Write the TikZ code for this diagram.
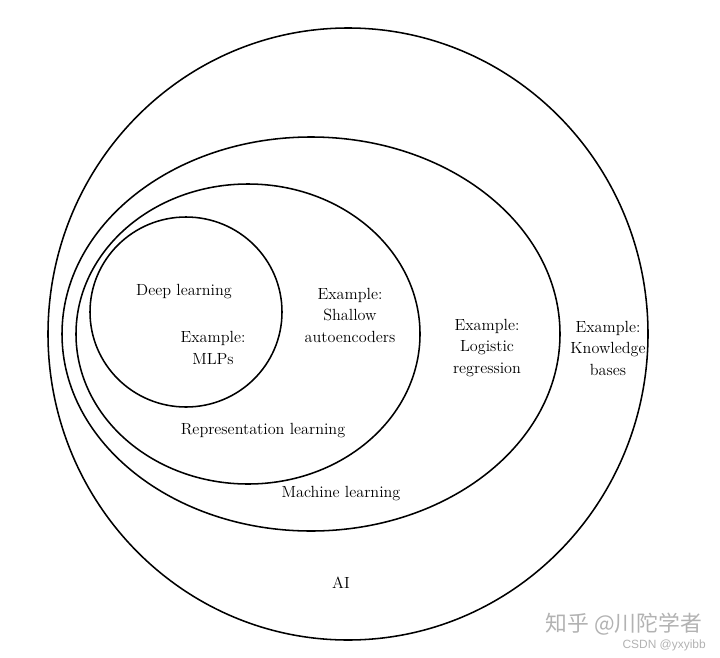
\documentclass[tikz,border=0pt]{standalone}
\usepackage{fontspec}
\newfontfamily\cjk{Noto Sans CJK SC}
\newfontfamily\wmsans{Liberation Sans}

\begin{document}
\begin{tikzpicture}[
  x=0.025cm, y=-0.025cm,
  set/.style={draw, line width=1.1pt},
  lbl/.style={align=center, inner sep=0pt, font=\fontsize{11.5}{15.3}\selectfont},
  wm/.style={text=black!30, inner sep=0pt}
]
\useasboundingbox (0,0) rectangle (720,657);
% nested sets
\draw[set] (348,334) ellipse [x radius=300, y radius=306];
\draw[set] (311,334) ellipse [x radius=249, y radius=197];
\draw[set] (248,334) ellipse [x radius=172, y radius=150];
\draw[set] (186,312) ellipse [x radius=96, y radius=95];

\node[lbl] (deep) at (184,292) {Deep learning};
\node[lbl] (mlp) at (213,348) {Example:\\MLPs};
\node[lbl] (shallow) at (350,315) {Example:\\Shallow\\autoencoders};
\node[lbl] (logreg) at (487,348) {Example:\\Logistic\\regression};
\node[lbl] (kb) at (608,348) {Example:\\Knowledge\\bases};
\node[lbl] (rep) at (263,431) {Representation learning};
\node[lbl] (ml) at (341,494) {Machine learning};
\node[lbl] (ai) at (341,583) {AI};

% watermark
\node[wm, font=\cjk\fontsize{15.5}{15.5}\selectfont] (wmzh) at (624,624) {知乎 @川陀学者};
\node[wm, anchor=east, font=\wmsans\fontsize{8.5}{8.5}\selectfont] (wmcsdn) at (706,645) {CSDN @yxyibb};
\end{tikzpicture}
\end{document}
